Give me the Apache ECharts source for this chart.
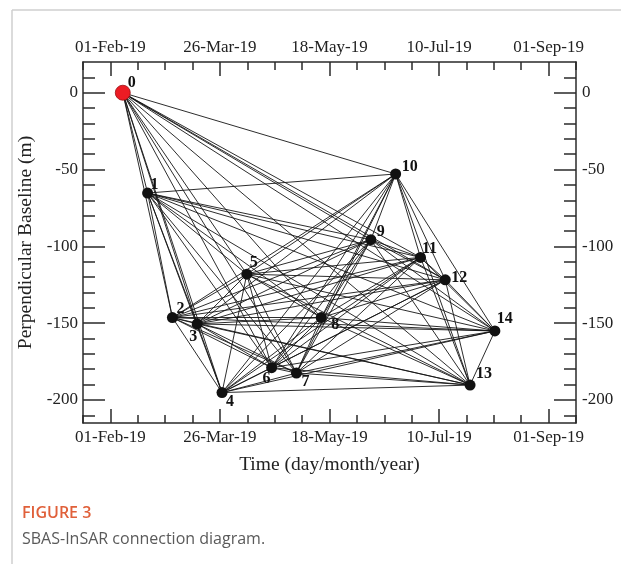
<!DOCTYPE html>
<html>
<head>
<meta charset="utf-8">
<script src="https://cdn.jsdelivr.net/npm/echarts@6/dist/echarts.min.js"></script>
<style>
html,body{margin:0;padding:0;background:#fff;}
#chart{width:621px;height:564px;}
</style>
</head>
<body>
<div id="chart"></div>
<script>
// ---- data ----
const acquisitionDates = ['2019-02-07','2019-02-19','2019-03-03','2019-03-15','2019-03-27','2019-04-08','2019-04-20','2019-05-02','2019-05-14','2019-06-07','2019-06-19','2019-07-01','2019-07-13','2019-07-25','2019-08-06'];
const perpendicularBaseline = [0, -65.3, -146.4, -150.5, -195.2, -118.1, -179.0, -182.5, -146.4, -95.7, -52.9, -107.2, -121.8, -190.3, -155.1];
const imageLabels = ['0','1','2','3','4','5','6','7','8','9','10','11','12','13','14'];
// interferometric pairs: for each image, partner images with a higher index
const pairPartners = [
  [1,2,3,4,5,6,7,8,9,10,11,12,13,14],
  [2,3,4,5,6,7,8,9,10,11,12,13,14],
  [3,4,5,6,7,8,9,10,11,12,13,14],
  [4,5,6,7,8,9,10,11,12,13,14],
  [5,6,7,8,9,10,11,12,13,14],
  [6,7,8,9,10,11,12,13,14],
  [7,8,9,10,11,12,13,14],
  [8,9,10,11,12,13,14],
  [9,10,11,12,13,14],
  [10,11,12,13,14],
  [11,12,13,14],
  [12,13,14],
  [13,14],
  [14],
  []
];
const timeTickDates = ['2019-02-01','2019-03-26','2019-05-18','2019-07-10','2019-09-01'];
const timeTickLabels = ['01-Feb-19','26-Mar-19','18-May-19','10-Jul-19','01-Sep-19'];
const baselineTicks = [-200,-150,-100,-50,0];
const baselineMinorTicks = [-210,-200,-190,-180,-170,-160,-150,-140,-130,-120,-110,-100,-90,-80,-70,-60,-50,-40,-30,-20,-10,0,10];

// ---- styles / label placement ----
const labelOffsets = [[9,-10],[7,-8],[8,-9],[-4,13],[8,9],[7,-11],[-5,11],[9,9],[14,7],[10,-8],[14,-7],[9,-9],[14,-2],[14,-11],[10,-12]];

const dayMs = 86400000;
const origin = Date.parse(timeTickDates[0] + 'T00:00:00Z');
const toDay = s => Math.round((Date.parse(s + 'T00:00:00Z') - origin) / dayMs);
const tickDays = timeTickDates.map(toDay);
const minorStep = tickDays[1] / 4;
const xMin = -minorStep, xMax = tickDays[tickDays.length - 1] + minorStep;

const SERIF = '"Liberation Serif","DejaVu Serif",serif';
const AX = '#2a2a2a';

const nodes = acquisitionDates.map((d, i) => ({
  name: imageLabels[i],
  value: [toDay(d), perpendicularBaseline[i]],
  symbolSize: i === 0 ? 15 : 11,
  itemStyle: i === 0 ? {color: '#ec1c24', borderColor: '#9a0d10', borderWidth: 0.8} : {color: '#111'},
  label: {offset: labelOffsets[i]}
}));
const links = [];
pairPartners.forEach((ps, a) => ps.forEach(b => links.push({source: a, target: b})));

function timeFmt(v){ const k = tickDays.indexOf(Math.round(v)); return k >= 0 ? timeTickLabels[k] : ''; }

function xAxisPair(pos){
  return [
    {type:'value', position:pos, min:xMin, max:xMax,
     axisLine:{show:true, onZero:false, lineStyle:{color:AX, width:1.5}},
     axisTick:{show:true, inside:true, length:14, customValues:tickDays, lineStyle:{color:AX, width:1.5}},
     axisLabel:{show:true, customValues:tickDays, formatter:timeFmt, margin:6, color:'#222', fontFamily:SERIF, fontSize:17},
     splitLine:{show:false},
     name: pos === 'bottom' ? 'Time (day/month/year)' : '',
     nameLocation:'middle', nameGap:32,
     nameTextStyle:{color:'#222', fontFamily:SERIF, fontSize:19.5}},
    {type:'value', position:pos, min:xMin, max:xMax, interval:minorStep,
     axisLine:{show:false, onZero:false},
     axisTick:{show:true, inside:true, length:8, lineStyle:{color:AX, width:1.5}},
     axisLabel:{show:false}, splitLine:{show:false}}
  ];
}
function yAxisPair(pos){
  return [
    {type:'value', position:pos, min:-215, max:20,
     axisLine:{show:true, onZero:false, lineStyle:{color:AX, width:1.5}},
     axisTick:{show:true, inside:true, length:22, customValues:baselineTicks, lineStyle:{color:AX, width:1.5}},
     axisLabel:{show:true, customValues:baselineTicks, margin:pos === 'left' ? 5 : 6, color:'#222', fontFamily:SERIF, fontSize:17},
     splitLine:{show:false},
     name: pos === 'left' ? 'Perpendicular Baseline (m)' : '',
     nameLocation:'middle', nameGap:42,
     nameTextStyle:{color:'#222', fontFamily:SERIF, fontSize:19.5}},
    {type:'value', position:pos, min:-215, max:20,
     axisLine:{show:false, onZero:false},
     axisTick:{show:true, inside:true, length:12, customValues:baselineMinorTicks, lineStyle:{color:AX, width:1.5}},
     axisLabel:{show:false}, splitLine:{show:false}}
  ];
}

const chart = echarts.init(document.getElementById('chart'), null, {renderer:'canvas'});
chart.setOption({
  animation:false,
  backgroundColor:'#fff',
  grid:{left:83, right:45, top:62, bottom:141, containLabel:false},
  xAxis:[...xAxisPair('bottom'), ...xAxisPair('top')],
  yAxis:[...yAxisPair('left'), ...yAxisPair('right')],
  graphic:[
    {type:'line', shape:{x1:12, y1:10, x2:621, y2:10}, style:{stroke:'#cfcfcf', lineWidth:1.5}},
    {type:'line', shape:{x1:12, y1:10, x2:12, y2:564}, style:{stroke:'#cfcfcf', lineWidth:1.5}},
    {type:'text', left:22, top:505, style:{text:'FIGURE 3', fill:'#e0603a', font:'600 16px "Open Sans", sans-serif'}},
    {type:'text', left:22, top:531, style:{text:'SBAS-InSAR connection diagram.', fill:'#5a5a5a', font:'16px "Open Sans", sans-serif'}}
  ],
  series:[{
    type:'graph',
    coordinateSystem:'cartesian2d',
    xAxisIndex:0, yAxisIndex:0,
    symbol:'circle',
    data:nodes,
    links:links,
    lineStyle:{color:'#151515', width:0.9, opacity:1, curveness:0},
    label:{show:true, position:'inside', formatter:'{b}', color:'#111', fontFamily:SERIF, fontWeight:'bold', fontSize:16},
    emphasis:{disabled:true},
    silent:true
  }]
});
</script>
</body>
</html>
